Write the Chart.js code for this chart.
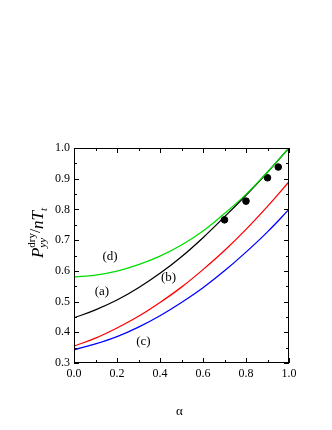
<!DOCTYPE html>
<html lang="en">
<head>
<meta charset="UTF-8">
<title>Pyy dry / nTt vs alpha</title>
<script src="https://cdn.jsdelivr.net/npm/chart.js@4.4.0/dist/chart.umd.min.js"></script>
<style>
  * { margin: 0; padding: 0; box-sizing: border-box; }
  body { background: #fff; width: 332px; height: 430px; overflow: hidden; }
  .chart-box { position: relative; width: 332px; height: 430px; }
</style>
</head>
<body>
<div class="chart-box"><canvas id="pressureChart"></canvas></div>
<script>
// values
const alpha  = [0, 0.1, 0.2, 0.3, 0.4, 0.5, 0.6, 0.7, 0.8, 0.9, 1.0];
const curveA = [0.447, 0.473, 0.505, 0.545, 0.592, 0.646, 0.708, 0.776, 0.846, 0.921, 1.0];
const curveB = [0.355, 0.381, 0.414, 0.452, 0.497, 0.547, 0.604, 0.666, 0.735, 0.810, 0.89];
const curveC = [0.343, 0.362, 0.386, 0.417, 0.454, 0.497, 0.545, 0.600, 0.661, 0.727, 0.80];
const curveD = [0.580, 0.586, 0.599, 0.620, 0.648, 0.684, 0.730, 0.787, 0.849, 0.922, 1.0];
const simAlpha = [0.7, 0.8, 0.9, 0.95];
const simP     = [0.766, 0.827, 0.903, 0.938];
const xTicks = [0, 0.2, 0.4, 0.6, 0.8, 1.0];
const yTicks = [0.3, 0.4, 0.5, 0.6, 0.7, 0.8, 0.9, 1.0];
const curveNames = ['(a)', '(b)', '(c)', '(d)'];

const SERIF = '"Liberation Serif", "DejaVu Serif", serif';

const toPts = (ys) => alpha.map((a, i) => ({ x: a, y: ys[i] }));

function curve(ys, color) {
    return {
        type: 'line',
        data: toPts(ys),
        borderColor: color,
        borderWidth: 1.3,
        pointRadius: 0,
        tension: 0.4,
        fill: false
    };
}

// where the (a)..(d) tags sit, in data units
const labelSpots = [[0.13, 0.533], [0.44, 0.578], [0.323, 0.371], [0.168, 0.646]];

const minorOf = (ticks) => ticks.slice(1).map((v, i) => (v + ticks[i]) / 2);

const frameTicks = {
    id: 'frameTicks',
    afterDatasetsDraw(chart) {
        const { ctx, chartArea: a, scales: { x, y } } = chart;
        ctx.save();
        ctx.strokeStyle = '#000';
        ctx.lineWidth = 1;
        ctx.strokeRect(a.left + 0.5, a.top + 0.5, a.right - a.left - 1, a.bottom - a.top - 1);
        ctx.beginPath();
        const xt = (v, len) => {
            const px = Math.round(x.getPixelForValue(v)) + 0.5;
            ctx.moveTo(px, a.bottom); ctx.lineTo(px, a.bottom - len);
            ctx.moveTo(px, a.top); ctx.lineTo(px, a.top + len);
        };
        const yt = (v, len) => {
            const py = Math.round(y.getPixelForValue(v)) + 0.5;
            ctx.moveTo(a.left, py); ctx.lineTo(a.left + len, py);
            ctx.moveTo(a.right, py); ctx.lineTo(a.right - len, py);
        };
        xTicks.forEach(v => xt(v, 5));
        minorOf(xTicks).forEach(v => xt(v, 3));
        yTicks.forEach(v => yt(v, 5));
        minorOf(yTicks).forEach(v => yt(v, 3));
        ctx.stroke();

        // curve tags
        ctx.fillStyle = '#000';
        ctx.font = '13px ' + SERIF;
        ctx.textAlign = 'center';
        ctx.textBaseline = 'middle';
        curveNames.forEach((t, i) => {
            ctx.fillText(t, x.getPixelForValue(labelSpots[i][0]), y.getPixelForValue(labelSpots[i][1]));
        });
        ctx.restore();
    },
    afterDraw(chart) {
        const { ctx, chartArea: a } = chart;
        ctx.save();
        ctx.fillStyle = '#000';
        // x title
        ctx.font = '13px ' + SERIF;
        ctx.textAlign = 'center';
        ctx.textBaseline = 'middle';
        ctx.fillText('α', (a.left + a.right) / 2 - 2, 412);

        // y title: P^dry_yy / n T_t, rotated
        const big = 'italic 17px ' + SERIF;
        const smallIt = 'italic 11px ' + SERIF;
        const small = '11px ' + SERIF;
        const parts = [
            { t: 'P', f: big, dy: 0 },
            { stack: [{ t: 'dry', f: small, dy: -8 }, { t: 'yy', f: smallIt, dy: 3 }] },
            { t: '/', f: '15px ' + SERIF, dy: -3 },
            { t: 'n', f: big, dy: 0 },
            { t: 'T', f: big, dy: 0 },
            { t: 't', f: smallIt, dy: 4 }
        ];
        const widthOf = (p) => {
            if (p.stack) return Math.max(...p.stack.map(widthOf));
            ctx.font = p.f;
            return ctx.measureText(p.t).width;
        };
        const total = parts.reduce((s, p) => s + widthOf(p), 0);
        ctx.translate(43, 233);
        ctx.rotate(-Math.PI / 2);
        ctx.textAlign = 'left';
        ctx.textBaseline = 'alphabetic';
        let cx = -total / 2;
        parts.forEach(p => {
            const w = widthOf(p);
            (p.stack || [p]).forEach(q => {
                ctx.font = q.f;
                ctx.fillText(q.t, cx, q.dy);
            });
            cx += w;
        });
        ctx.restore();
    }
};

new Chart(document.getElementById('pressureChart'), {
    data: {
        datasets: [
            curve(curveD, '#00dd00'),
            curve(curveA, '#000000'),
            curve(curveB, '#ff0000'),
            curve(curveC, '#0000ff'),
            {
                type: 'scatter',
                data: simAlpha.map((a, i) => ({ x: a, y: simP[i] })),
                backgroundColor: '#000',
                borderColor: '#000',
                pointRadius: 3.3,
                pointHoverRadius: 3.3
            }
        ]
    },
    options: {
        responsive: true,
        maintainAspectRatio: false,
        animation: false,
        layout: { padding: { top: 148, right: 43, left: 0, bottom: 0 } },
        plugins: {
            legend: { display: false },
            tooltip: { enabled: false }
        },
        scales: {
            x: {
                type: 'linear',
                min: 0,
                max: 1,
                afterBuildTicks: (s) => { s.ticks = xTicks.map(v => ({ value: v })); },
                afterFit: (s) => { s.height = 67; },
                grid: { display: false, drawTicks: false },
                border: { display: false },
                ticks: {
                    padding: 4,
                    maxRotation: 0,
                    color: '#000',
                    font: { family: SERIF, size: 12 },
                    callback: (v) => Number(v).toFixed(1)
                }
            },
            y: {
                type: 'linear',
                min: 0.3,
                max: 1.0,
                afterBuildTicks: (s) => { s.ticks = yTicks.map(v => ({ value: v })); },
                afterFit: (s) => { s.width = 74; },
                grid: { display: false, drawTicks: false },
                border: { display: false },
                ticks: {
                    padding: 4,
                    color: '#000',
                    font: { family: SERIF, size: 12 },
                    callback: (v) => Number(v).toFixed(1)
                }
            }
        }
    },
    plugins: [frameTicks]
});
</script>
</body>
</html>
